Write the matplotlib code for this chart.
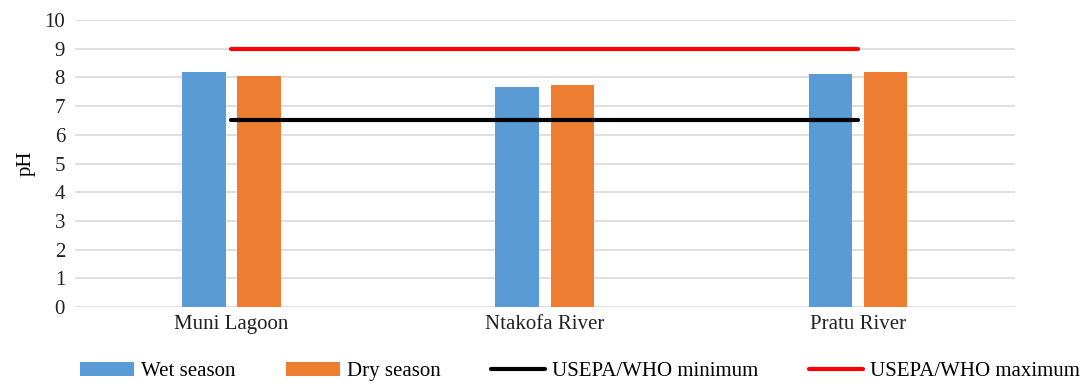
import matplotlib
matplotlib.use("Agg")
import matplotlib.pyplot as plt
import numpy as np

# chart data
sites = ["Muni Lagoon", "Ntakofa River", "Pratu River"]
wet_season = [8.20, 7.68, 8.13]
dry_season = [8.06, 7.75, 8.17]
usepa_min = [6.5, 6.5, 6.5]
usepa_max = [9.0, 9.0, 9.0]
y_ticks = list(range(0, 11))

plt.rcParams['font.family'] = ['Liberation Serif', 'DejaVu Serif']
plt.rcParams['font.size'] = 15

def main():
    fig = plt.figure(figsize=(10.84, 3.83), dpi=100)
    ax = fig.add_axes([0.069, 0.198, 0.867, 0.750])

    x = np.arange(len(sites))
    width = 0.139
    offset = 0.088

    # bars
    b1 = ax.bar(x - offset, wet_season, width, color="#5B9BD5", label="Wet season", zorder=2)
    b2 = ax.bar(x + offset, dry_season, width, color="#ED7D31", label="Dry season", zorder=2)

    # guideline lines
    l1, = ax.plot(x, usepa_min, color="black", lw=3, solid_capstyle="round",
                  label="USEPA/WHO minimum", zorder=3)
    l2, = ax.plot(x, usepa_max, color="#FF0000", lw=3, solid_capstyle="round",
                  label="USEPA/WHO maximum", zorder=3)

    ax.set_xlim(-0.5, 2.5)
    ax.set_ylim(0, 10)
    ax.set_yticks(y_ticks)
    ax.set_xticks(x)
    ax.set_xticklabels(sites)
    ax.tick_params(axis="both", length=0, labelsize=15, colors="#222222")
    ax.tick_params(axis="y", pad=7)
    ax.tick_params(axis="x", pad=6)
    ax.set_ylabel("pH", fontsize=15, labelpad=6)

    ax.yaxis.grid(True, color="#D9D9D9", lw=1.2, zorder=0)
    ax.set_axisbelow(True)
    for s in ax.spines.values():
        s.set_visible(False)

    fig.legend(handles=[b1, b2, l1, l2], loc="center", bbox_to_anchor=(0.535, 0.029),
               ncol=4, frameon=False, fontsize=15, handlelength=2.6, handleheight=0.6,
               handletextpad=0.35, columnspacing=2.4, borderpad=0)

    fig.savefig("out.png", dpi=100)

if __name__ == "__main__":
    main()
